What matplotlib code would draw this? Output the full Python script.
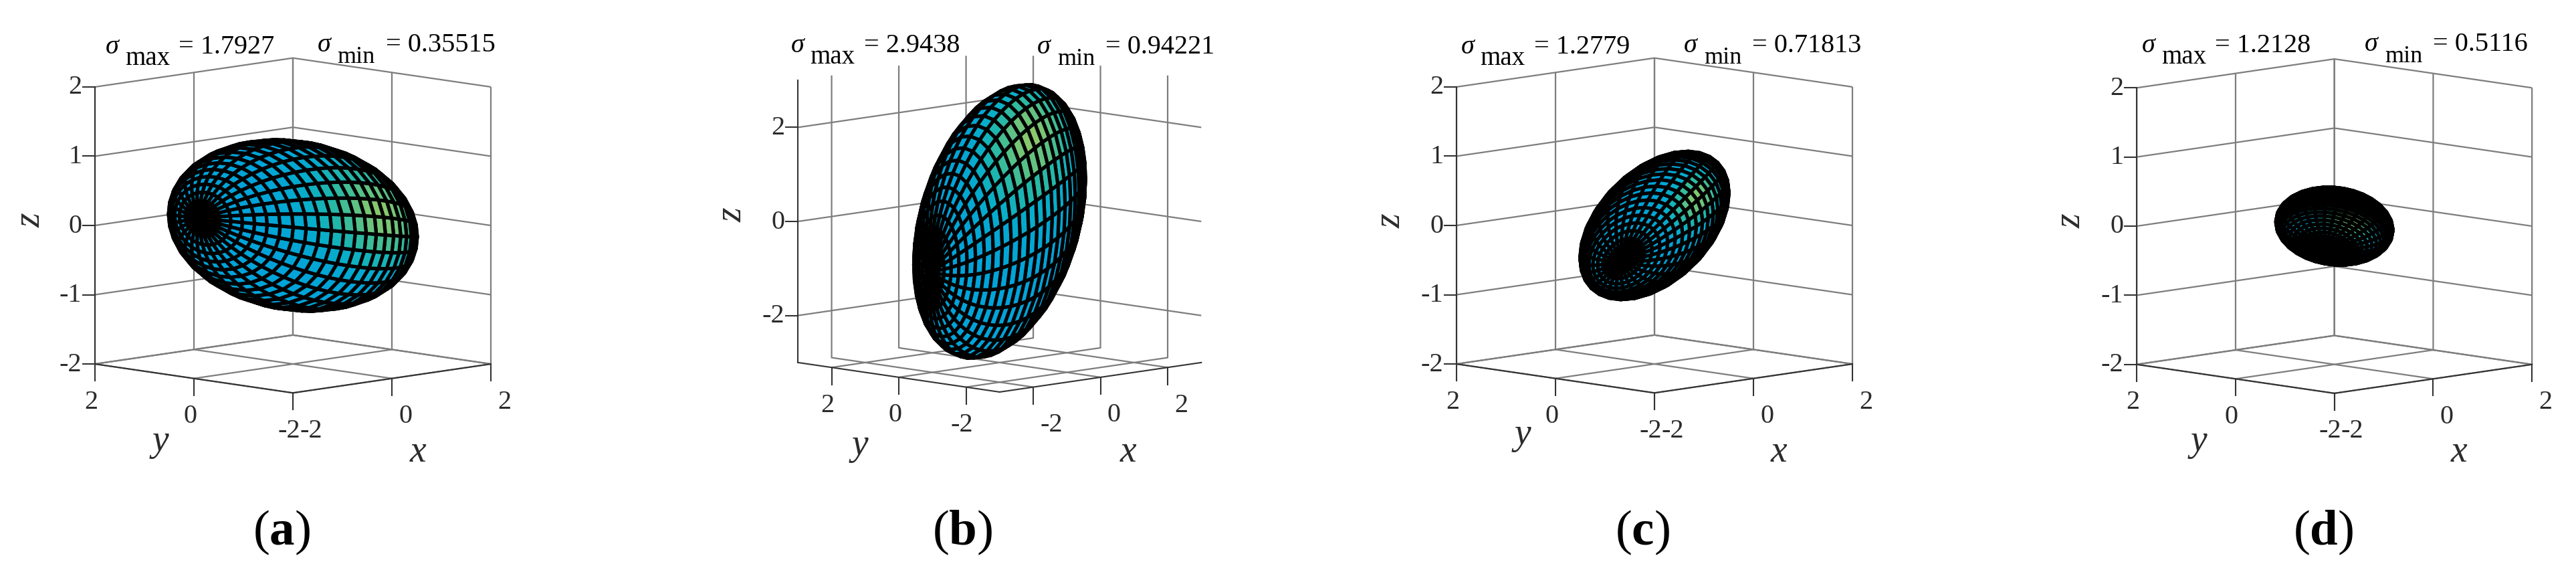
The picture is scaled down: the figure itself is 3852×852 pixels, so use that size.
import numpy as np
import matplotlib
matplotlib.use('Agg')
import matplotlib.pyplot as plt
from matplotlib.colors import LinearSegmentedColormap
from mpl_toolkits.mplot3d import proj3d

W, H = 3852, 852

panel_letters = ['a', 'b', 'c', 'd']
sigma_max = ['1.7927', '2.9438', '1.2779', '1.2128']
sigma_min = ['0.35515', '0.94221', '0.71813', '0.5116']

# matrices that map the unit sphere on to each ellipsoid
matrix_a = [[0.657, -0.005, -1.10], [-1.028, -0.005, 0.765], [-0.089, 1.228, 0.139]]
matrix_b = [[0.272, -0.134, -1.405], [-1.292, -0.134, 0.615], [0.217, 2.737, -0.978]]
matrix_c = [[0.473, -0.172, -0.75], [-0.882, -0.172, -0.095], [0.322, 0.939, -0.414]]
matrix_d = [[0.546, -0.2045, -0.375], [-0.627, -0.2045, -0.212], [-0.093, 0.505, -0.245]]
matrices = [matrix_a, matrix_b, matrix_c, matrix_d]

# where the colour peaks, as a point on the unit sphere, and how tight the peak is
bright_dirs = [[0.973, 0.158, -0.164], [0.799, 0.600, 0.038],
               [0.885, 0.323, 0.334], [0.46, 0.675, 0.576]]
bright_powers = [5, 6, 12, 6]

xy_limits = [2, 3, 2, 2]
xy_ticks = [[-2, 0, 2]] * 4
z_ticks = [[-2, -1, 0, 1, 2], [-2, 0, 2], [-2, -1, 0, 1, 2], [-2, -1, 0, 1, 2]]

# layout in pixels of the full picture
centers = [(438, 337), (1494.8, 331), (2474, 337), (3490.7, 338)]
spans = [592, 603, 592, 591]
max_pos = [(158, 80), (1182.5, 78), (2184.5, 80), (3203, 78)]
min_pos = [(474.6, 77), (1551, 80), (2518, 78), (3536, 76)]
xlabel_pos = [(624.6, 676), (1687, 676), (2660, 676), (3677, 676)]
ylabel_pos = [(240, 660), (1286, 666), (2277, 650), (3288, 660)]
zlabel_pos = [(46, 329), (1095, 321), (2080, 330), (3097, 330)]
name_x = [421, 1439, 2456.5, 3474]

plt.rcParams['font.family'] = ['Liberation Serif', 'DejaVu Serif']
plt.rcParams['mathtext.fontset'] = 'custom'
plt.rcParams['mathtext.bf'] = 'Liberation Serif:bold'
plt.rcParams['mathtext.rm'] = 'Liberation Serif'
text_color = '#2b2b2b'
ellipsoid_cmap = LinearSegmentedColormap.from_list(
    'parula_part', ['#02a3d8', '#07adca', '#1fb6ac', '#4cbf8d', '#8ac86c'])

fig = plt.figure(figsize=(W / 100, H / 100), dpi=100)


def put_text(x, y, s, **kw):
    return fig.text(x / W, 1 - y / H, s, **kw)


def to_pixels(ax, x, y, z):
    px, py, _ = proj3d.proj_transform(x, y, z, ax.get_proj())
    return ax.transData.transform((px, py))


def fit_axes(ax, lim, center, span):
    # the 3D box is scaled and moved until its floor spans the same pixels
    ax.set_position([0.1, 0.1, 400 / W, 400 / H])
    ax.apply_aspect()
    left = to_pixels(ax, -lim, lim, -lim)
    right = to_pixels(ax, lim, -lim, -lim)
    side = 400 * span / (right[0] - left[0])
    ax.set_position([0.1, 0.1, side / W, side / H])
    ax.apply_aspect()
    mid = to_pixels(ax, 0, 0, 0)
    ax.set_position([0.1 + (center[0] - mid[0]) / W,
                     0.1 + (H - center[1] - mid[1]) / H, side / W, side / H])
    ax.apply_aspect()


n = 30
theta = np.linspace(-np.pi, np.pi, n + 1)
phi = np.linspace(-np.pi / 2, np.pi / 2, n + 1)
theta, phi = np.meshgrid(theta, phi)
sphere = np.array([np.cos(phi) * np.cos(theta), np.cos(phi) * np.sin(theta), np.sin(phi)])

for i in range(4):
    lim = xy_limits[i]
    ax = fig.add_axes([0.1, 0.1, 0.1, 0.1], projection='3d')
    ax.set_proj_type('ortho')
    ax.view_init(elev=8.4, azim=-135)
    ax.set_box_aspect((1, 1, 1))
    ax.set_xlim(-lim, lim, view_margin=0)
    ax.set_ylim(-lim, lim, view_margin=0)
    ax.set_zlim(-lim, lim, view_margin=0)
    ax.patch.set_alpha(0)
    fit_axes(ax, lim, centers[i], spans[i])

    ax.set_xticks(xy_ticks[i])
    ax.set_yticks(xy_ticks[i])
    ax.set_zticks(z_ticks[i])
    ax.set_xticklabels([])
    ax.set_yticklabels([])
    ax.set_zticklabels([])
    for axis in (ax.xaxis, ax.yaxis, ax.zaxis):
        axis.set_pane_color((1, 1, 1, 0))
        axis.pane.set_edgecolor((1, 1, 1, 0))
        axis.line.set_color('#333333')
        axis.line.set_linewidth(1.5)
        axis._axinfo['grid'].update(color='#7d7d7d', linewidth=1.6)
        axis._axinfo['tick'].update(inward_factor=0, outward_factor=0)

    # MATLAB style tick marks: straight down on the floor, left on the z axis
    tick_len = 0.03 * lim
    for t in xy_ticks[i]:
        ax.plot([t, t], [-lim, -lim], [-lim, -lim - 4 * tick_len], color='#333333', lw=1.5)
        ax.plot([-lim, -lim], [t, t], [-lim, -lim - 4 * tick_len], color='#333333', lw=1.5)
    for t in z_ticks[i]:
        ax.plot([-lim, -lim - 2 * tick_len], [lim, lim + 2 * tick_len], [t, t],
                color='#333333', lw=1.5)

    # ellipsoid
    A = np.array(matrices[i])
    X, Y, Z = np.tensordot(A, sphere, axes=1)
    value = np.abs(np.tensordot(bright_dirs[i], sphere, axes=1)) ** bright_powers[i]
    surf = ax.plot_surface(X, Y, Z, rstride=1, cstride=1, facecolors=ellipsoid_cmap(value),
                           shade=False)
    surf.set_edgecolor('k')
    surf.set_linewidth(3.7)

    # tick labels
    for t in xy_ticks[i]:
        px = to_pixels(ax, t, -lim, -lim)
        put_text(px[0] + 10, H - px[1] + 57, str(t), fontsize=29, color=text_color,
                 ha='left', va='center')
        px = to_pixels(ax, -lim, t, -lim)
        put_text(px[0] - 6, H - px[1] + 57, str(t), fontsize=29, color=text_color,
                 ha='center', va='center')
    for t in z_ticks[i]:
        px = to_pixels(ax, -lim, lim, t)
        put_text(px[0] - 20, H - px[1] + 1, str(t), fontsize=29, color=text_color,
                 ha='right', va='center')

    put_text(*xlabel_pos[i], 'x', fontsize=40, style='italic', color=text_color,
             ha='center', va='center')
    put_text(*ylabel_pos[i], 'y', fontsize=40, style='italic', color=text_color,
             ha='center', va='center')
    put_text(*zlabel_pos[i], 'z', fontsize=40, style='italic', color=text_color,
             ha='center', va='center', rotation=90)

    # sigma labels
    x, y = max_pos[i]
    put_text(x, y, '\u03c3', fontsize=29, style='italic', color='k', va='baseline')
    put_text(x + 29, y + 17, 'max', fontsize=28, color='k', va='baseline')
    put_text(x + 109, y, '= ' + sigma_max[i], fontsize=29, color='k', va='baseline')
    x, y = min_pos[i]
    put_text(x, y, '\u03c3', fontsize=29, style='italic', color='k', va='baseline')
    put_text(x + 30, y + 17, 'min', fontsize=26, color='k', va='baseline')
    put_text(x + 102, y, '= ' + sigma_min[i], fontsize=29, color='k', va='baseline')

    # panel name with the letter in bold
    put_text(name_x[i], 796, '($\\mathbf{' + panel_letters[i] + '}$)', fontsize=54,
             color='k', ha='center', va='center')

fig.savefig('out.png', dpi=100)
